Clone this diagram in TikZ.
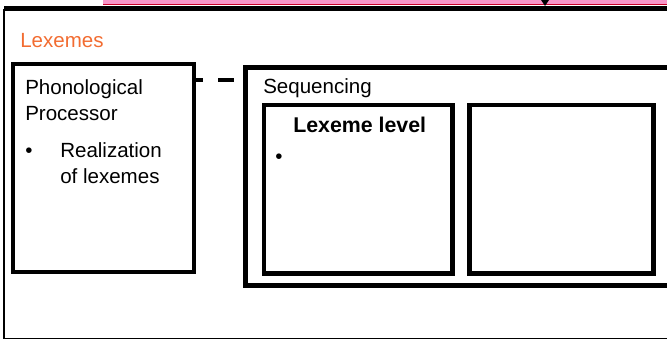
\documentclass[tikz,border=0pt]{standalone}
\usepackage{fontspec}
\setmainfont{Liberation Sans}
\definecolor{lexorange}{RGB}{242,108,49}
\definecolor{stripPink}{RGB}{247,150,200}
\definecolor{stripRed}{RGB}{200,0,40}
\begin{document}
\begin{tikzpicture}[x=0.75pt,y=-0.75pt,
  box/.style={draw=black,line width=3.4pt,rectangle,inner sep=0pt,fill=none},
  lbl/.style={anchor=base west,inner sep=0pt,font=\fontsize{15.4pt}{18pt}\selectfont},
  conn/.style={draw=black,line width=3.2pt,dash pattern=on 12pt off 11.25pt,dash phase=6.75pt}]
\useasboundingbox (0,0) rectangle (667,340);
% clipped strip at the top
\fill[stripPink] (103,0) rectangle (667,4.5);
\draw[stripRed,line width=1pt] (103,4.5) -- (667,4.5);
\fill[black] (541,0) -- (549,0) -- (545,6) -- cycle;
% outer frame
\coordinate (otl) at (4,8.5);
\coordinate (otr) at (700,8.5);
\coordinate (obl) at (4,338.5);
\coordinate (obr) at (700,338.5);
\draw[line width=3.6pt] (otl) -- (otr);
\draw[line width=1.6pt] (otl) -- (obl);
\draw[line width=1.2pt] (obl) -- (obr);
\node[lbl,text=lexorange] (lex) at (20,47) {Lexemes};
% phonological processor box
\node[box,minimum width=135.75pt,minimum height=156pt] (phon) at (103.5,168) {};
\node[lbl] (phon1) at (25,94) {Phonological};
\node[lbl] (phon2) at (25,120) {Processor};
\node[lbl] (phonb) at (25,157) {•};
\node[lbl] (phon3) at (60,157) {Realization};
\node[lbl] (phon4) at (60,183) {of lexemes};
% sequencing box
\node[box,minimum width=340.9pt,minimum height=163.5pt] (seq) at (472.75,176.5) {};
\node[lbl] (seqt) at (263,93) {Sequencing};
\node[box,minimum width=141.4pt,minimum height=126.4pt] (lexlev) at (358.25,189.25) {};
\node[lbl,font=\fontsize{16pt}{18pt}\selectfont\bfseries] (lexlevt) at (293,132) {Lexeme level};
\node[lbl] (lexb) at (275,163) {•};
\node[box,minimum width=138pt,minimum height=126.4pt] (right) at (561.5,189.25) {};
% dashed connector
\draw[conn] (phon.east |- 0,80) -- (seq.west |- 0,80);
\end{tikzpicture}
\end{document}
